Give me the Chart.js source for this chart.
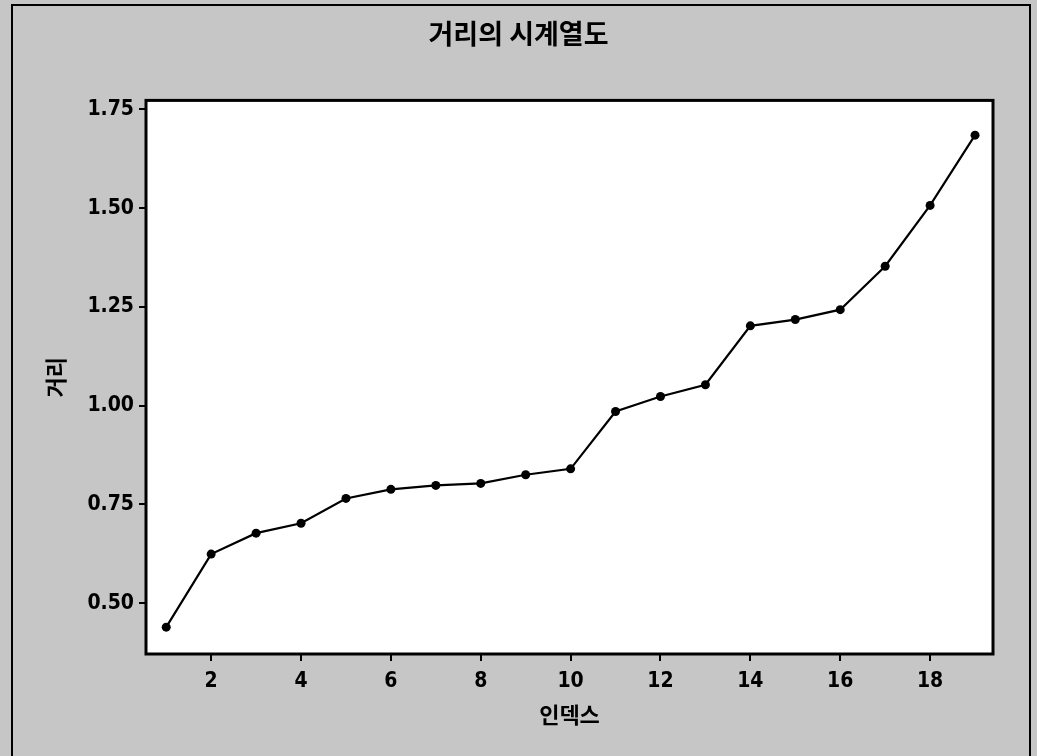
<!DOCTYPE html>
<html lang="ko">
<head>
<meta charset="utf-8">
<title>거리의 시계열도</title>
<script src="https://cdn.jsdelivr.net/npm/chart.js@4.4.1/dist/chart.umd.min.js"></script>
<style>
  html, body { margin: 0; padding: 0; background: #fff; }
  #wrap { width: 1037px; height: 756px; }
</style>
</head>
<body>
<div id="wrap"><canvas id="myChart" width="1037" height="756"></canvas></div>
<script>
const ctx = document.getElementById('myChart');

// 인덱스 / 거리
const indices = [1, 2, 3, 4, 5, 6, 7, 8, 9, 10, 11, 12, 13, 14, 15, 16, 17, 18, 19];
const distances = [0.439, 0.624, 0.677, 0.702, 0.765, 0.788, 0.798, 0.803, 0.825, 0.840,
                   0.985, 1.023, 1.053, 1.202, 1.218, 1.243, 1.353, 1.507, 1.685];
const xTicks = [2, 4, 6, 8, 10, 12, 14, 16, 18];
const yTicks = [0.50, 0.75, 1.00, 1.25, 1.50, 1.75];

const tickFont = { family: "'Liberation Sans Narrow', 'DejaVu Sans Condensed', sans-serif", size: 21, weight: 'bold' };
const krFont = "'Noto Sans CJK KR', sans-serif";

// gray page, white plot area, black frames
const frame = {
  id: 'frame',
  beforeDraw(chart) {
    const c = chart.ctx;
    const a = chart.chartArea;
    c.save();
    c.fillStyle = '#c6c6c6';
    c.fillRect(0, 0, chart.width, chart.height);
    c.fillStyle = '#fff';
    c.fillRect(a.left, a.top, a.right - a.left, a.bottom - a.top);
    c.strokeStyle = '#000';
    c.lineWidth = 2;
    c.strokeRect(12, 5, 1018, 800);
    c.restore();
  },
  afterDraw(chart) {
    const c = chart.ctx;
    const a = chart.chartArea;
    c.save();
    c.strokeStyle = '#000';
    c.lineWidth = 3;
    c.strokeRect(a.left, a.top, a.right - a.left, a.bottom - a.top);
    c.restore();
  }
};

new Chart(ctx, {
  type: 'line',
  data: {
    datasets: [{
      label: '거리',
      data: indices.map((v, i) => ({ x: v, y: distances[i] })),
      borderColor: '#000',
      backgroundColor: '#000',
      borderWidth: 2.2,
      pointRadius: 4.5,
      pointBackgroundColor: '#000',
      pointBorderWidth: 0,
      tension: 0
    }]
  },
  options: {
    responsive: false,
    animation: false,
    layout: { padding: { top: 10, right: 0, left: 0, bottom: 0 } },
    plugins: {
      legend: { display: false },
      tooltip: { enabled: false },
      title: {
        display: true,
        text: '거리의 시계열도',
        color: '#000',
        font: { family: krFont, size: 27, weight: 'bold' },
        padding: { top: 8, bottom: 50 }
      }
    },
    scales: {
      x: {
        type: 'linear',
        min: 0.55,
        max: 19.4,
        afterBuildTicks: s => { s.ticks = xTicks.map(v => ({ value: v })); },
        afterFit: s => { s.height = 102; },
        grid: { drawOnChartArea: false, drawTicks: true, tickLength: 7, color: '#000', lineWidth: 2 },
        border: { display: false },
        ticks: { color: '#000', font: tickFont, padding: 8, maxRotation: 0, callback: v => String(v) },
        title: {
          display: true,
          text: '인덱스',
          color: '#000',
          font: { family: krFont, size: 22, weight: 'bold' },
          padding: { top: 0, bottom: 28 }
        }
      },
      y: {
        min: 0.371,
        max: 1.773,
        afterBuildTicks: s => { s.ticks = yTicks.map(v => ({ value: v })); },
        afterFit: s => { s.width = 146; },
        grid: { drawOnChartArea: false, drawTicks: true, tickLength: 7, color: '#000', lineWidth: 2 },
        border: { display: false },
        ticks: { color: '#000', font: tickFont, padding: 5, callback: v => v.toFixed(2) },
        title: {
          display: true,
          text: '거리',
          color: '#000',
          font: { family: krFont, size: 22, weight: 'bold' },
          padding: { top: 42, bottom: 0 }
        }
      },
      // empty right margin so the title centres on the whole page
      yRight: {
        position: 'right',
        display: true,
        afterFit: s => { s.width = 44; },
        grid: { display: false },
        border: { display: false },
        ticks: { display: false }
      }
    }
  },
  plugins: [frame]
});
</script>
</body>
</html>
